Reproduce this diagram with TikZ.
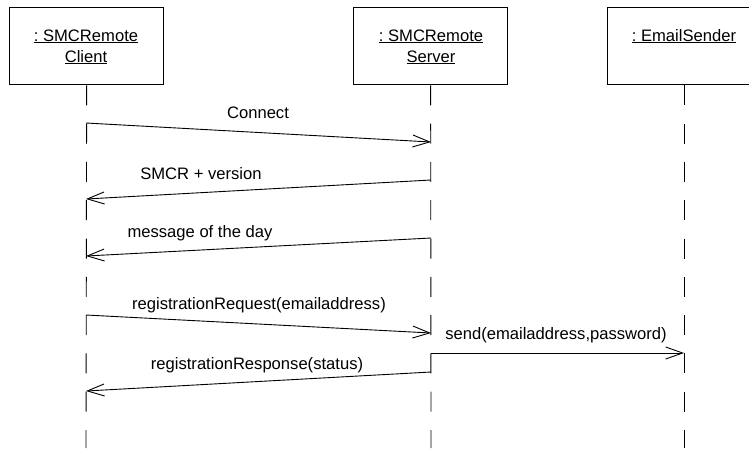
\documentclass[tikz,border=0pt]{standalone}
\usepackage{fontspec}
\setmainfont{Liberation Sans}
\frenchspacing
\usetikzlibrary{arrows.meta}
\begin{document}
\begin{tikzpicture}[x=1pt,y=-1pt,
  objbox/.style={draw,line width=1.3pt,minimum width=154pt,minimum height=77pt,anchor=north west,inner sep=0pt},
  lbl/.style={anchor=base,inner sep=0pt,font=\fontsize{16.6}{20}\selectfont},
  lifeline/.style={line width=0.9pt,dash pattern=on 20pt off 18.3pt},
  msg/.style={line width=0.9pt,-{Straight Barb[length=17pt,width=12pt,line width=0.9pt]}},
  ttl/.style={anchor=base,inner sep=0pt,font=\fontsize{16.6}{20}\selectfont}]
\useasboundingbox (0,0) rectangle (749,448);
% object boxes
\node[objbox] (client) at (9,7) {};
\node[objbox] (server) at (353,7) {};
\node[objbox] (email) at (607,7) {};
\node[ttl] (ct1) at (86,41) {\underline{:\ SMCRemote}};
\node[ttl] (ct2) at (86,62) {\underline{Client}};
\node[ttl] (st1) at (431,41) {\underline{:\ SMCRemote}};
\node[ttl] (st2) at (431,62) {\underline{Server}};
\node[ttl] (et1) at (684,41) {\underline{:\ EmailSender}};
% lifelines
\coordinate (cb) at (86,448);
\coordinate (sb) at (431,448);
\coordinate (eb) at (684,448);
\draw[lifeline] (client.south) -- (cb);
\draw[lifeline] (server.south) -- (sb);
\draw[lifeline] (email.south -| 684,0) -- (eb);
% message endpoints
\coordinate (m1a) at (86,123);  \coordinate (m1b) at (431,142);
\coordinate (m2a) at (431,180); \coordinate (m2b) at (86,199);
\coordinate (m3a) at (431,238); \coordinate (m3b) at (86,256);
\coordinate (m4a) at (86,315);  \coordinate (m4b) at (431,333);
\coordinate (m5a) at (431,353); \coordinate (m5b) at (684,353);
\coordinate (m6a) at (431,372); \coordinate (m6b) at (86,391);
% messages
\draw[msg] (m1a) -- (m1b);
\draw[msg] (m2a) -- (m2b);
\draw[msg] (m3a) -- (m3b);
\draw[msg] (m4a) -- (m4b);
\draw[msg] (m5a) -- (m5b);
\draw[msg] (m6a) -- (m6b);
% labels
\node[lbl] (l1) at (258,118) {Connect};
\node[lbl] (l2) at (201,179) {SMCR + version};
\node[lbl] (l3) at (200,237) {message of the day};
\node[lbl] (l4) at (259,309) {registrationRequest(emailaddress)};
\node[lbl] (l5) at (556,339) {send(emailaddress,password)};
\node[lbl] (l6) at (257,369) {registrationResponse(status)};
\end{tikzpicture}
\end{document}
